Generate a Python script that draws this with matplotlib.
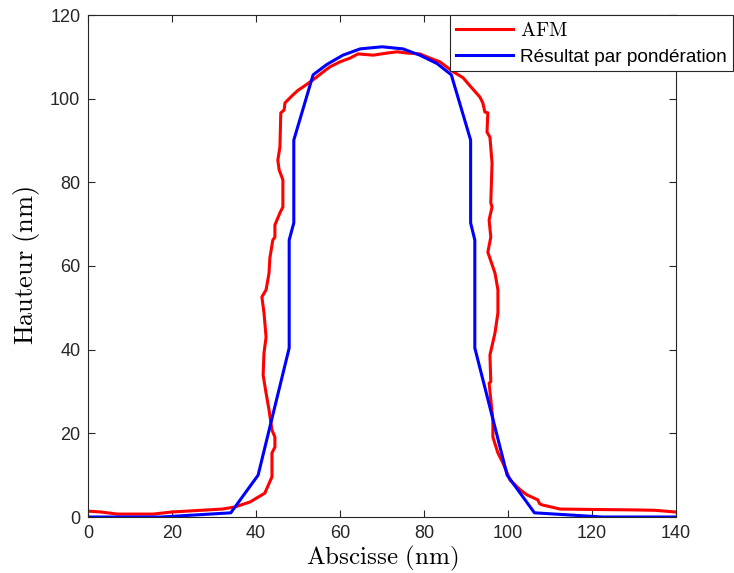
import matplotlib
matplotlib.use("Agg")
import matplotlib.pyplot as plt

plt.rcParams["font.family"] = ["Liberation Sans", "DejaVu Sans"]
plt.rcParams["mathtext.fontset"] = "cm"

# AFM profile
afm_x = [0, 3, 7, 15.5, 20, 32, 35, 38.6, 42.1, 43.8, 43.8, 44.5, 44.5, 43.8, 43.1,
         42.4, 41.7, 41.9, 42.4, 41.9, 41.4, 42.4, 43.1, 43.3, 44.0, 44.5, 44.5,
         45.7, 46.4, 46.4, 45.5, 45.2, 45.7, 45.9, 46.7, 46.9, 48.3, 48.8, 50.0,
         51.2, 52.9, 54.5, 56.0, 57.6, 60.0, 62.4, 64.3, 67.9, 71.2, 73.6, 76.0,
         79.0, 81.4, 83.8, 86.7, 89.3, 91.0, 93.3, 94.0, 94.5, 95.2, 95.0, 95.7,
         96.2, 95.9, 96.2, 95.5, 95.9, 95.2, 96.9, 97.6, 97.6, 96.9, 95.7, 95.9,
         95.5, 96.4, 96.4, 97.6, 98.8, 100.5, 102.9, 104.5, 107.1, 107.5, 108.1,
         112.4, 120, 129.8, 135, 139.8]
afm_y = [1.4, 1.2, 0.7, 0.7, 1.2, 1.9, 2.4, 3.6, 5.7, 9.6, 15.3, 16.7, 19.1, 20.8, 25.6,
         29.6, 33.9, 39.2, 43.0, 48.8, 52.6, 54.3, 58.3, 61.9, 66.2, 66.9, 69.8,
         72.7, 74.1, 80.6, 83.0, 85.3, 88.5, 96.6, 97.3, 99.0, 100.4, 100.9, 102.0,
         102.8, 104.0, 105.2, 106.4, 107.6, 108.8, 109.7, 110.7, 110.4, 110.9, 111.2, 110.9,
         110.7, 109.7, 108.8, 106.6, 105.0, 103.0, 100.4, 99.0, 96.8, 96.6, 92.0, 90.8,
         84.6, 75.1, 74.1, 71.0, 66.9, 63.3, 58.3, 54.3, 48.8, 44.0, 38.7, 32.3,
         32.0, 23.2, 19.1, 15.3, 12.9, 8.8, 6.5, 5.3, 4.1, 3.2, 2.9,
         1.9, 1.8, 1.7, 1.6, 1.2]

# weighted result profile
pond_x = [0, 17.5, 34.0, 40.5, 47.9, 47.9, 49.0, 49.0, 53.6, 56.9, 60.7, 64.8, 70.0,
          75.0, 79.0, 83.1, 86.5, 91.1, 91.1, 92.1, 92.1, 99.8, 106.3, 122.5, 140]
pond_y = [0, 0, 1.0, 10.0, 40.4, 66.2, 70.3, 90.1, 105.7, 108.2, 110.4, 111.9, 112.4,
          111.9, 110.4, 108.4, 105.7, 90.1, 70.3, 66.2, 40.4, 10.0, 1.0, 0, 0]

fig = plt.figure(figsize=(7.34, 5.73), dpi=100)
ax = fig.add_axes([88 / 734, 56 / 573, 588 / 734, 502 / 573])

ax.plot(afm_x, afm_y, color="#ff0000", lw=2.2, label=r"$\mathrm{AFM}$")
ax.plot(pond_x, pond_y, color="#0000ff", lw=2.2, label="Résultat par pondération")

ax.set_xlim(0, 140)
ax.set_ylim(0, 120)
ax.set_xticks(range(0, 141, 20))
ax.set_yticks(range(0, 121, 20))
ax.tick_params(direction="in", length=5, labelsize=13, colors="#262626",
               top=True, right=True)
ax.tick_params(axis="x", pad=6)
ax.tick_params(axis="y", pad=5.5)
for s in ax.spines.values():
    s.set_color("#262626")
    s.set_linewidth(0.8)

# axis titles placed like the original (close to tick labels)
fig.text(382 / 734, 1 - 564 / 573, r"$\mathrm{Abscisse\ (nm)}$", fontsize=18,
         ha="center", va="baseline")
fig.text(27 / 734, 1 - 266 / 573, r"$\mathrm{Hauteur\ (nm)}$", fontsize=19,
         ha="center", va="center", rotation=90)

leg = fig.legend(loc="upper left", bbox_to_anchor=(450 / 734, 1 - 15 / 573),
                 fontsize=13.7, fancybox=False, edgecolor="#262626", framealpha=1,
                 borderaxespad=0, handlelength=3.0, handletextpad=0.4,
                 borderpad=0.3, labelspacing=0.45)
leg.get_frame().set_linewidth(0.8)
leg.get_texts()[0].set_fontsize(14.5)

fig.savefig("out.png", dpi=100)
